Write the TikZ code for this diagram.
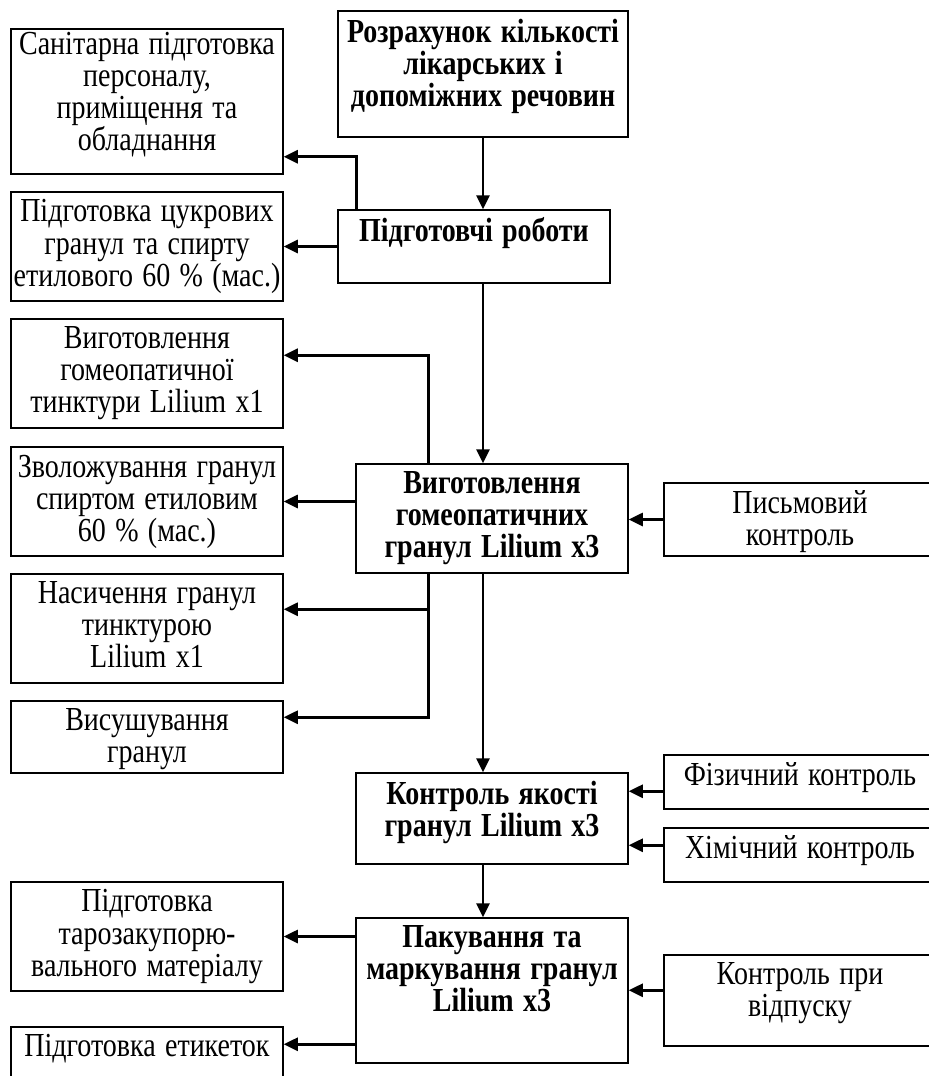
\documentclass[tikz,border=0pt]{standalone}
\usepackage{fontspec}
\setmainfont{Liberation Serif}
\usepackage{xcolor}
\usepackage{tikz}
\usetikzlibrary{positioning, arrows.meta, calc}

\tikzset{
  box/.style={draw, line width=0.75pt, inner sep=0pt, minimum width=136pt},
  boxtext/.style={anchor=north, yshift=-4pt, yscale=1.2, transform shape, inner sep=0pt,
    text width=150pt, align=center, font=\fontsize{14pt}{13.35pt}\selectfont},
  boldtext/.style={boxtext, font=\fontsize{14pt}{13.35pt}\selectfont\bfseries},
  arr/.style={line width=1.3pt, -{Triangle[length=7pt, width=6.5pt]}},
}

\begin{document}
\begin{tikzpicture}[x=0.5pt, y=-0.5pt]
    \useasboundingbox (0,0) rectangle (929,1076);

    % main column
    \node[box, minimum width=145pt, minimum height=63pt,
          label={[boldtext]north:{Розрахунок кількості\\лікарських і\\допоміжних речовин}}] (calc) at (483,74) {};
    \node[box, minimum height=36.5pt,
          label={[boldtext]north:{Підготовчі роботи}}] (prep) at (474,246.5) {};
    \node[box, minimum height=54.5pt,
          label={[boldtext]north:{Виготовлення\\гомеопатичних\\гранул Lilium x3}}] (make) at (492,518.5) {};
    \node[box, minimum height=45.5pt,
          label={[boldtext]north:{Контроль якості\\гранул Lilium x3}}] (qc) at (492,818.5) {};
    \node[box, minimum height=72.5pt,
          label={[boldtext]north:{Пакування та\\маркування гранул\\Lilium x3}}] (pack) at (492,990.5) {};

    % left column
    \node[box, minimum height=72.5pt,
          label={[boxtext, yshift=2pt]north:{Санітарна підготовка\\персоналу,\\приміщення та\\обладнання}}] (sanit) at (147,101.5) {};
    \node[box, minimum height=54.5pt,
          label={[boxtext]north:{Підготовка цукрових\\гранул та спирту\\етилового 60~\% (мас.)}}] (sugar) at (147,246.5) {};
    \node[box, minimum height=54.5pt,
          label={[boxtext]north:{Виготовлення\\гомеопатичної\\тинктури Lilium x1}}] (tinct) at (147,373.5) {};
    \node[box, minimum height=54.5pt,
          label={[boxtext]north:{Зволожування гранул\\спиртом етиловим\\60~\% (мас.)}}] (moist) at (147,501.5) {};
    \node[box, minimum height=54.5pt,
          label={[boxtext]north:{Насичення гранул\\тинктурою\\Lilium x1}}] (satur) at (147,628.5) {};
    \node[box, minimum height=36pt,
          label={[boxtext]north:{Висушування\\гранул}}] (dry) at (147,737) {};
    \node[box, minimum height=54.5pt,
          label={[boxtext]north:{Підготовка\\тарозакупорю-\\вального матеріалу}}] (pkmat) at (147,936.5) {};
    \node[box, minimum height=36pt,
          label={[boxtext]north:{Підготовка етикеток}}] (labels) at (147,1063) {};

    % right column
    \node[box, minimum height=36.5pt,
          label={[boxtext]north:{Письмовий\\контроль}}] (written) at (800,519.5) {};
    \node[box, minimum height=27pt,
          label={[boxtext]north:{Фізичний контроль}}] (phys) at (800,782) {};
    \node[box, minimum height=27pt,
          label={[boxtext]north:{Хімічний контроль}}] (chem) at (800,855) {};
    \node[box, minimum height=45.5pt,
          label={[boxtext]north:{Контроль при\\відпуску}}] (release) at (800,1000.5) {};

    % branch points
    \coordinate (sanitin) at ($(sanit.south east)+(0,-18)$);
    \coordinate (tinctin) at ($(tinct.north east)+(0,37)$);
    \coordinate (saturin) at ($(satur.north east)+(0,36)$);
    \coordinate (dryin) at ($(dry.north east)+(0,17)$);
    \coordinate (labelsin) at ($(labels.north east)+(0,18)$);
    \coordinate (physout) at ($(phys.north west)+(0,37)$);
    \coordinate (chemout) at ($(chem.north west)+(0,18)$);
    \coordinate (releaseout) at ($(release.north west)+(0,36)$);

    % main flow
    \draw[arr] (calc.south) -- (calc.south |- prep.north);
    \draw[arr] (prep.south -| calc.south) -- (calc.south |- make.north);
    \draw[arr] (make.south -| calc.south) -- (calc.south |- qc.north);
    \draw[arr] (qc.south -| calc.south) -- (calc.south |- pack.north);

    % to the left
    \draw[arr] ($(prep.north west)+(19,0)$) |- (sanitin);
    \draw[arr] (prep.west) -- (sugar.east);
    \draw[arr] ($(make.north west)+(73,0)$) |- (tinctin);
    \draw[arr] (make.west |- moist.east) -- (moist.east);
    \draw[arr] ($(make.south west)+(73,0)$) |- (saturin);
    \draw[arr] ($(make.south west)+(73,0)$) |- (dryin);
    \draw[arr] (pack.west |- pkmat.east) -- (pkmat.east);
    \draw[arr] (pack.west |- labelsin) -- (labelsin);

    % from the right
    \draw[arr] (written.west) -- (make.east |- written.west);
    \draw[arr] (physout) -- (physout -| qc.east);
    \draw[arr] (chemout) -- (chemout -| qc.east);
    \draw[arr] (releaseout) -- (releaseout -| pack.east);
  \end{tikzpicture}
\end{document}
